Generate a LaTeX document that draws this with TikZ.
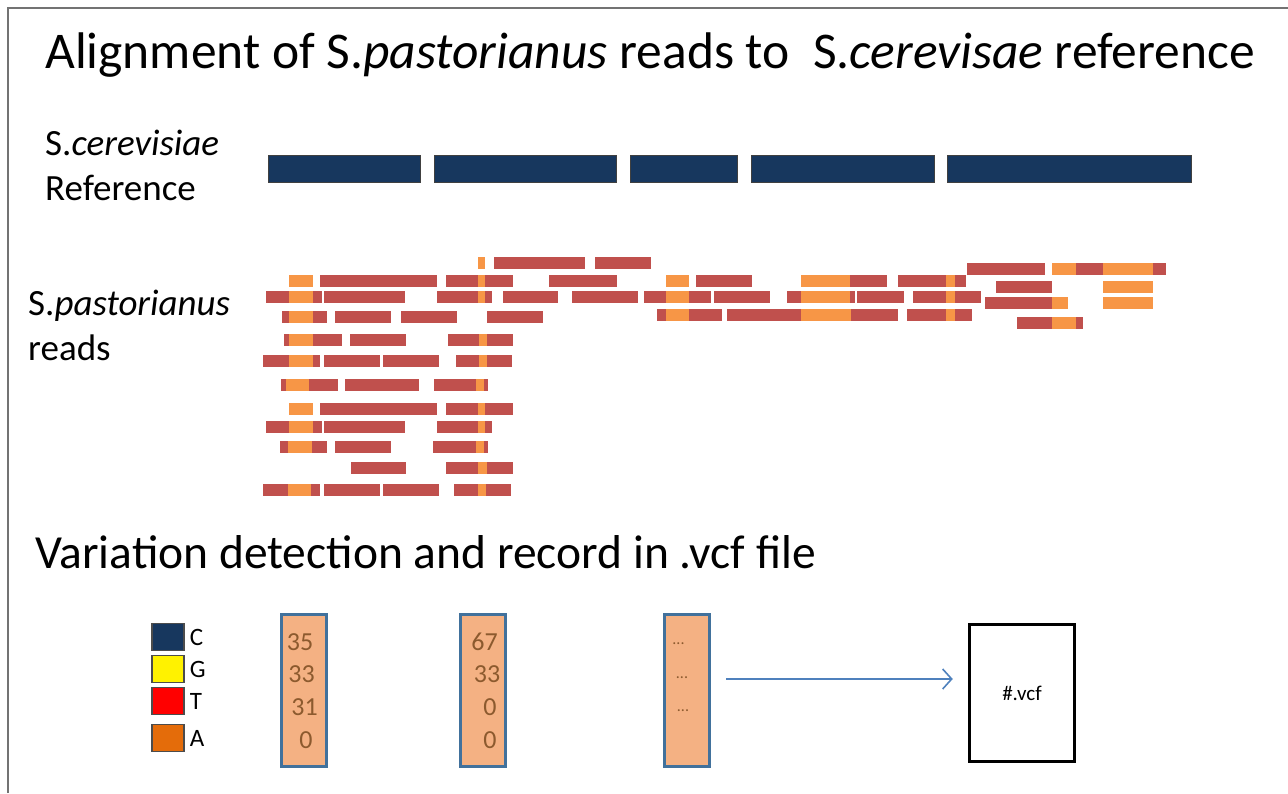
\documentclass[tikz,border=0pt]{standalone}
\usepackage{fontspec}
\setmainfont{Carlito}
\usepackage{xcolor}
\usetikzlibrary{arrows.meta}
\definecolor{readred}{HTML}{C0504D}
\definecolor{readorange}{HTML}{F79646}
\definecolor{refnavy}{HTML}{17375E}
\definecolor{colpeach}{HTML}{F4B183}
\definecolor{colblue}{HTML}{41719C}
\definecolor{numbrown}{HTML}{8C5A2E}
\definecolor{arrowblue}{HTML}{4F81BD}

\begin{document}
\begin{tikzpicture}[x=1pt, y=-1pt,
  txt/.style={anchor=base west, inner sep=0pt, font=\fontsize{37}{44}\selectfont},
  refbar/.style={fill=refnavy, draw=black!75, line width=0.8pt},
  redbar/.style={fill=readred},
  orangebar/.style={fill=readorange},
  key/.style={draw=black!70, line width=1.2pt, minimum width=32pt, minimum height=27pt, inner sep=0pt},
  keylab/.style={anchor=west, inner sep=0pt, font=\fontsize{25}{30}\selectfont},
  col/.style={draw=colblue, fill=colpeach, line width=3pt, minimum width=45pt, minimum height=152pt, inner sep=0pt},
  num/.style={inner sep=0pt, text=numbrown, font=\fontsize{26}{30}\selectfont},
  flow/.style={-{Straight Barb[length=9pt, width=20pt]}, draw=arrowblue, line width=1.6pt}
]
\useasboundingbox (0,0) rectangle (1288,793);
% frame
\draw[line width=2pt, black!55] (8,793) -- (8,8) -- (1288,8);

% texts
\node[txt, font=\fontsize{51.5}{60}\selectfont] (title) at (45,68) {Alignment of S.\textit{pastorianus} reads to\ \ S.\textit{cerevisae} reference};
\node[txt] (refa) at (45,155) {S.\textit{cerevisiae}};
\node[txt] (refb) at (45,200) {Reference};
\node[txt] (rda) at (28,315) {S.\textit{pastorianus}};
\node[txt] (rdb) at (28,360) {reads};
\node[txt, font=\fontsize{47.5}{56}\selectfont] (vartitle) at (35,568) {Variation detection and record in .vcf file};

% reference
\foreach \xa/\xb in {268/420, 434/616, 630/737, 751/934, 947/1191}
  \draw[refbar] (\xa,155) rectangle (\xb,182);

% reads (red)
\foreach \xa/\ya/\xb in {
  494/257/585, 595/257/651,
  967/263/1045, 1052/263/1166,
  320/275/437, 446/275/513, 549/275/617, 696/275/752, 801/275/887, 898/275/966,
  996/281/1052,
  266/291/322, 324/291/405, 437/291/492, 503/291/558, 572/291/638, 644/291/711, 714/291/770, 787/291/855, 857/291/904, 913/291/981,
  985/297/1052,
  282/311/327, 335/311/391, 401/311/457, 487/311/543, 657/309/722, 727/309/898, 907/309/972,
  1017/317/1083,
  284/334/342, 350/334/406, 448/334/513,
  263/355/320, 324/355/380, 383/355/439, 456/355/512,
  281/379/338, 345/379/419, 434/379/488,
  320/403/437, 446/403/513,
  266/421/322, 324/421/405, 437/421/492,
  280/441/327, 335/441/391, 433/441/488,
  351/462/406, 446/462/513,
  263/484/320, 324/484/380, 383/484/439, 454/484/511}
  \fill[redbar] (\xa,\ya) rectangle (\xb,\ya+12);

% reads (orange)
\foreach \xa/\ya/\xb in {
  478/257/485,
  1052/263/1076, 1103/263/1153,
  289/275/313, 478/275/485, 666/275/689, 801/275/850, 946/275/955,
  1103/281/1153,
  289/291/313, 478/291/485, 666/291/689, 801/291/850, 946/291/955,
  1052/297/1068, 1103/297/1153,
  289/311/313, 666/309/689, 801/309/851, 946/309/955,
  1052/317/1076,
  289/334/313, 479/334/487,
  289/355/313, 479/355/487,
  286/379/309, 476/379/484,
  289/403/313, 478/403/485,
  289/421/313, 478/421/485,
  288/441/312, 476/441/484,
  478/462/487,
  288/484/311, 478/484/486}
  \fill[orangebar] (\xa,\ya) rectangle (\xb,\ya+12);

% legend
\node[key, fill=refnavy] (keyc) at (168,637) {};
\node[key, fill=yellow] (keyg) at (168,669) {};
\node[key, fill=red] (keyt) at (168,701) {};
\node[key, fill={rgb,255:red,228;green,108;blue,10}] (keya) at (168,738) {};
\node[keylab] at ([xshift=5pt]keyc.east) {C};
\node[keylab] at ([xshift=5pt]keyg.east) {G};
\node[keylab] at ([xshift=5pt]keyt.east) {T};
\node[keylab] at ([xshift=5pt]keya.east) {A};

% count columns
\node[col] (col1) at (304,690.5) {};
\node[col] (col2) at (482.5,690.5) {};
\node[col] (col3) at (687,690.5) {};
\node[num] at (300,642) {35};
\node[num] at (301.5,674) {33};
\node[num] at (304.5,707) {31};
\node[num] at (306,740) {0};
\node[num] at (484.5,642) {67};
\node[num] at (487,674) {33};
\node[num] at (490,707) {0};
\node[num] at (490,740) {0};
\node[num, font=\fontsize{16}{18}\selectfont] at (678.5,644) {...};
\node[num, font=\fontsize{16}{18}\selectfont] at (682,678) {...};
\node[num, font=\fontsize{16}{18}\selectfont] at (683,711) {...};

% output file
\node[draw=black, line width=3.5pt, minimum width=105pt, minimum height=137pt, inner sep=0pt,
  font=\fontsize{21}{25}\selectfont] (vcf) at (1022,693) {\#.vcf};
\draw[flow] ([xshift=15pt, yshift=11.5pt]col3.east) -- ([xshift=-15pt, yshift=14pt]vcf.west);
\end{tikzpicture}
\end{document}
